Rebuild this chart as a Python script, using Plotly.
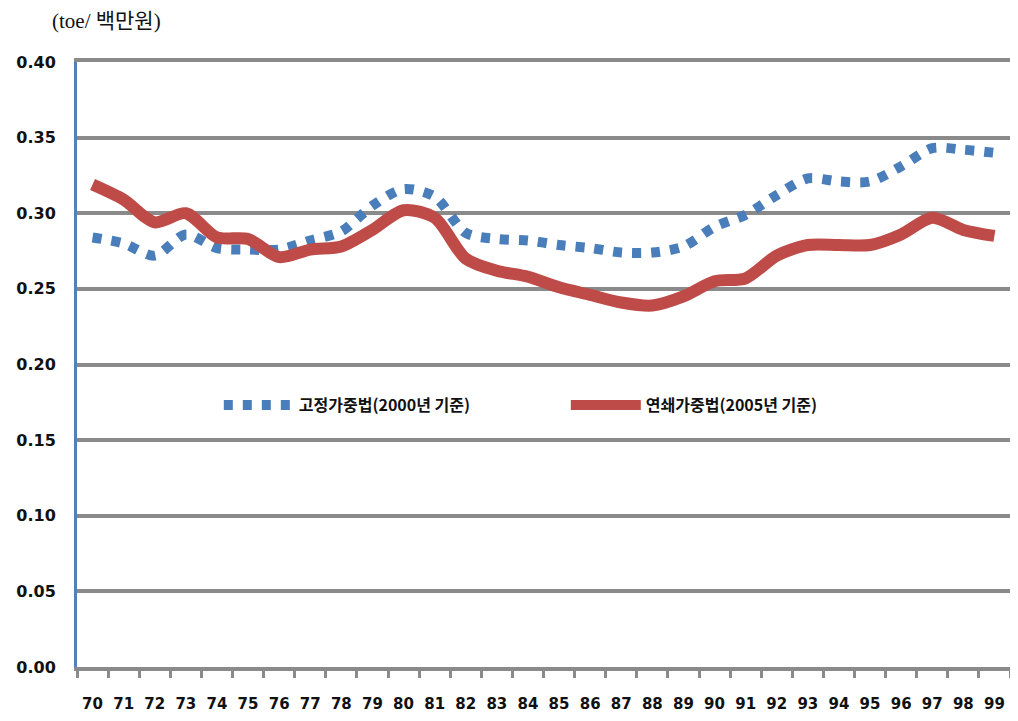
import plotly.graph_objects as go

years = ["70","71","72","73","74","75","76","77","78","79","80","81","82","83","84",
         "85","86","87","88","89","90","91","92","93","94","95","96","97","98","99"]
fixed_2000 = [0.284,0.280,0.272,0.286,0.277,0.276,0.276,0.282,0.288,0.305,0.316,0.311,0.287,0.283,0.282,
              0.279,0.277,0.274,0.274,0.278,0.291,0.299,0.312,0.323,0.321,0.321,0.331,0.343,0.342,0.340]
chain_2005 = [0.319,0.309,0.294,0.300,0.284,0.283,0.271,0.276,0.278,0.289,0.302,0.297,0.270,0.262,0.258,
              0.251,0.246,0.241,0.239,0.245,0.255,0.257,0.272,0.279,0.279,0.279,0.286,0.297,0.289,0.285]
name_fixed = "고정가중법(2000년 기준)"
name_chain = "연쇄가중법(2005년 기준)"
y_ticks = [0.00,0.05,0.10,0.15,0.20,0.25,0.30,0.35,0.40]
unit_label = "(toe/ 백만원)"

xs = list(range(len(years)))

fig = go.Figure()
fig.add_trace(go.Scatter(x=xs, y=fixed_2000, name=name_fixed, mode="lines",
                         line=dict(color="#4a7ebb", width=10, dash="9px,10px", shape="spline", smoothing=0.8)))
fig.add_trace(go.Scatter(x=xs, y=chain_2005, name=name_chain, mode="lines",
                         line=dict(color="#be4b48", width=12, shape="spline", smoothing=0.8)))

fig.update_layout(
    width=1002, height=705,
    margin=dict(l=69, r=0, t=54, b=46),
    paper_bgcolor="white", plot_bgcolor="white",
    showlegend=True,
    legend=dict(orientation="h", x=0.152, y=0.433, xanchor="left", yanchor="middle",
                font=dict(family="Noto Sans CJK KR", size=16, color="#111", weight="bold"),
                itemwidth=70,
                entrywidth=262, entrywidthmode="pixels", bgcolor="rgba(0,0,0,0)"),
    annotations=[dict(text=unit_label, xref="paper", yref="paper", x=-0.029, y=1.0, yshift=41,
                      xanchor="left", yanchor="middle", showarrow=False,
                      font=dict(family="Liberation Serif, Noto Sans CJK KR", size=21, color="#111"))],
)
fig.update_xaxes(
    range=[-0.5, 29.5], tickvals=xs, ticktext=years, automargin=False,
    showgrid=False, zeroline=False, showline=True, linecolor="#8a8a8a", linewidth=3.5, mirror=True,
    ticks="", ticklabelstandoff=20, ticklabeloverflow="allow",
    tickfont=dict(family="DejaVu Sans", size=15, color="#111", weight="bold"),
    minor=dict(tickvals=[i - 0.5 for i in range(31)], ticks="outside", ticklen=7,
               tickwidth=3, tickcolor="#8a8a8a", showgrid=False),
)
fig.update_yaxes(
    range=[0, 0.40], tickvals=y_ticks, tickformat=".2f", automargin=False,
    showgrid=True, gridcolor="#8a8a8a", gridwidth=3.5,
    zeroline=False, showline=True, linecolor="#4f81bd", linewidth=3,
    ticks="", ticklabelstandoff=15,
    tickfont=dict(family="DejaVu Sans", size=16, color="#111", weight="bold"),
)
fig.write_html("out.html")
